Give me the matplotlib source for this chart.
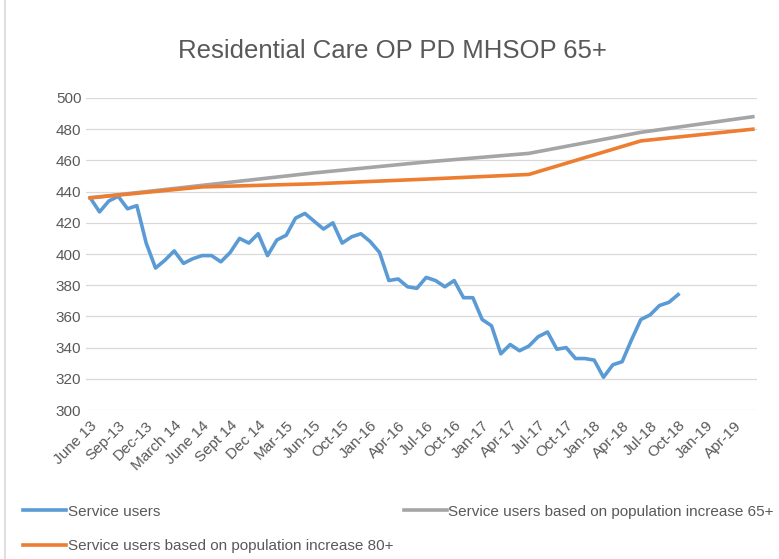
import numpy as np
import matplotlib
matplotlib.use("Agg")
import matplotlib.pyplot as plt
from matplotlib.lines import Line2D

# category axis: one slot per month, every third one labelled
tick_labels = ["June 13", "Sep-13", "Dec-13", "March 14", "June 14", "Sept 14",
               "Dec 14", "Mar-15", "Jun-15", "Oct-15", "Jan-16", "Apr-16",
               "Jul-16", "Oct-16", "Jan-17", "Apr-17", "Jul-17", "Oct-17",
               "Jan-18", "Apr-18", "Jul-18", "Oct-18", "Jan-19", "Apr-19"]
n_slots = 72

service_users = [436, 427, 434, 437, 429, 431, 407, 391, 396, 402, 394, 397,
                 399, 399, 395, 401, 410, 407, 413, 399, 409, 412, 423, 426,
                 421, 416, 420, 407, 411, 413, 408, 401, 383, 384, 379, 378,
                 385, 383, 379, 383, 372, 372, 358, 354, 336, 342, 338, 341,
                 347, 350, 339, 340, 333, 333, 332, 321, 329, 331, 345, 358,
                 361, 367, 369, 374]

# projections only have values at a few slots
proj_slots = [0, 12, 24, 36, 47, 59, 71]
proj_65 = [436, 444, 452, 459, 464.5, 478, 488]
proj_80 = [436, 443, 445, 448, 451, 472.5, 480]

txt = "#595959"
plt.rcParams["font.family"] = ["Liberation Sans", "DejaVu Sans"]

fig = plt.figure(figsize=(7.79, 5.59), dpi=100)
ax = fig.add_axes([0.1098, 0.2665, 0.8626, 0.5582])

ax.plot(np.arange(len(service_users)), service_users, color="#5B9BD5", lw=2.6,
        solid_joinstyle="round", label="Service users")
ax.plot(proj_slots, proj_65, color="#A5A5A5", lw=2.6,
        label="Service users based on population increase 65+")
ax.plot(proj_slots, proj_80, color="#ED7D31", lw=2.6,
        label="Service users based on population increase 80+")

ax.set_xlim(-0.5, n_slots - 0.5)
ax.set_ylim(300, 500)
ax.set_yticks(np.arange(300, 501, 20))
ax.set_xticks(np.arange(0, n_slots, 3))
ax.set_xticklabels(tick_labels, rotation=45, ha="right", va="top",
                   rotation_mode="anchor")
ax.tick_params(length=0, labelsize=11, colors=txt, pad=6)
ax.tick_params(axis="y", pad=3)
ax.grid(axis="y", color="#D9D9D9", lw=0.9)
ax.set_axisbelow(True)
for s in ax.spines.values():
    s.set_visible(False)

fig.text(0.504, 0.908, "Residential Care OP PD MHSOP 65+", ha="center",
         va="center", fontsize=18.5, color=txt)

h, l = ax.get_legend_handles_labels()
order = [0, 2, 1]
fig.legend([h[i] for i in order], [l[i] for i in order], ncol=2,
           loc="upper left", bbox_to_anchor=(0.022, 0.108), frameon=False,
           fontsize=11, labelcolor=txt, handlelength=2.8, handletextpad=0.1,
           columnspacing=0.7, labelspacing=1.35, borderaxespad=0)

# chart-area border on the left edge
fig.add_artist(Line2D([0.0065, 0.0065], [0, 1], color="#D9D9D9", lw=1.2))

fig.savefig("out.png", dpi=100)
